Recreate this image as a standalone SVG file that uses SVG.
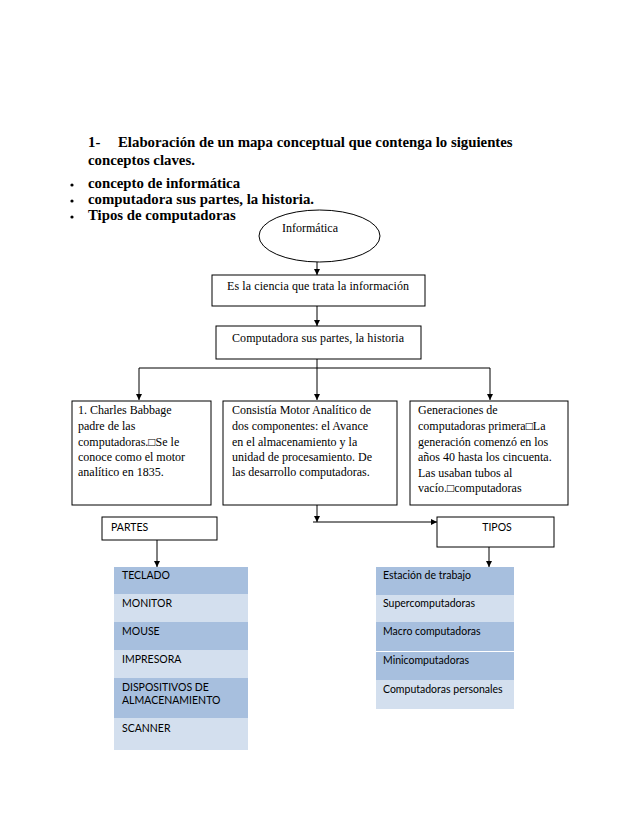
<svg xmlns="http://www.w3.org/2000/svg" width="638" height="826" viewBox="0 0 638 826">
<defs>
<marker id="ah" viewBox="0 0 6 6" refX="6" refY="3" markerWidth="6" markerHeight="6" markerUnits="userSpaceOnUse" orient="auto">
<path d="M0,0 L6,3 L0,6 z" fill="#000"/>
</marker>
<style>
.t{font-family:"Liberation Serif","Times New Roman",serif;font-size:12px;fill:#000}
.h{font-family:"Liberation Serif","Times New Roman",serif;font-size:14.8px;font-weight:bold;fill:#000}
.s{font-family:Lato,"Liberation Sans",sans-serif;font-size:10.5px;fill:#000}
.box{fill:#fff;stroke:#000;stroke-width:1}
.ln{fill:none;stroke:#000;stroke-width:1}
.dk{fill:#a7bfde}
.lt{fill:#d3dfee}
</style>
</defs>
<rect width="638" height="826" fill="#fff"/>
<g id="heading">
<text class="h" x="88" y="147">1-</text>
<text class="h" x="118" y="147">Elaboración de  un mapa conceptual que contenga lo siguientes</text>
<text class="h" x="88" y="165">conceptos claves.</text>
<circle cx="72" cy="185" r="1.6" fill="#000"/>
<circle cx="72" cy="201" r="1.6" fill="#000"/>
<circle cx="72" cy="217" r="1.6" fill="#000"/>
<text class="h" x="88" y="188">concepto de  informática</text>
<text class="h" x="88" y="204">computadora sus partes, la historia.</text>
<text class="h" x="88" y="220">Tipos de computadoras</text>
</g>
<g id="connectors">
<line class="ln" x1="317" y1="262" x2="317" y2="275" marker-end="url(#ah)"/>
<line class="ln" x1="317" y1="306" x2="317" y2="326" marker-end="url(#ah)"/>
<line class="ln" x1="317" y1="359" x2="317" y2="368"/>
<line class="ln" x1="139" y1="368" x2="490" y2="368"/>
<line class="ln" x1="139" y1="368" x2="139" y2="400" marker-end="url(#ah)"/>
<line class="ln" x1="317" y1="368" x2="317" y2="400" marker-end="url(#ah)"/>
<line class="ln" x1="490" y1="368" x2="490" y2="400" marker-end="url(#ah)"/>
<line class="ln" x1="317" y1="505" x2="317" y2="522" marker-end="url(#ah)"/>
<line class="ln" x1="313" y1="522" x2="437" y2="522" marker-end="url(#ah)"/>
<line class="ln" x1="157" y1="540" x2="157" y2="567" marker-end="url(#ah)"/>
<line class="ln" x1="489" y1="547" x2="489" y2="567" marker-end="url(#ah)"/>
</g>
<g id="informatica">
<ellipse class="box" cx="319.5" cy="236" rx="60.5" ry="26"/>
<text class="t" x="310" y="232" text-anchor="middle">Informática</text>
</g>
<g id="ciencia">
<rect class="box" x="212" y="275" width="213" height="31"/>
<text class="t" x="227" y="290" textLength="182" lengthAdjust="spacing">Es la ciencia  que trata la información</text>
</g>
<g id="computadora">
<rect class="box" x="216" y="326" width="205" height="33"/>
<text class="t" x="232" y="342" textLength="172" lengthAdjust="spacing">Computadora  sus  partes,  la historia</text>
</g>
<g id="babbage">
<rect class="box" x="72" y="401" width="139" height="104"/>
<text class="t" x="78" y="414">1. Charles  Babbage</text>
<text class="t" x="78" y="430">padre de las</text>
<text class="t" x="78" y="446">computadoras.□Se  le</text>
<text class="t" x="78" y="461">conoce como el  motor</text>
<text class="t" x="78" y="476">analítico  en 1835.</text>
</g>
<g id="motor">
<rect class="box" x="223" y="401" width="174" height="104"/>
<text class="t" x="232" y="414">Consistía Motor Analítico  de</text>
<text class="t" x="232" y="430">dos componentes:  el Avance</text>
<text class="t" x="232" y="446">en el almacenamiento  y la</text>
<text class="t" x="232" y="461">unidad  de procesamiento.  De</text>
<text class="t" x="232" y="476">las desarrollo  computadoras.</text>
</g>
<g id="generaciones">
<rect class="box" x="410" y="401" width="158" height="104"/>
<text class="t" x="418" y="414">Generaciones   de</text>
<text class="t" x="418" y="430">computadoras   primera□La</text>
<text class="t" x="418" y="446">generación  comenzó  en los</text>
<text class="t" x="418" y="461">años 40 hasta los cincuenta.</text>
<text class="t" x="418" y="477">Las  usaban tubos al</text>
<text class="t" x="418" y="492">vacío.□computadoras</text>
</g>
<g id="partes">
<rect class="box" x="102" y="517" width="115" height="23"/>
<text class="s" x="111" y="531">PARTES</text>
</g>
<g id="tipos">
<rect class="box" x="437" y="517" width="117" height="30"/>
<text class="s" x="497" y="531" text-anchor="middle">TIPOS</text>
</g>
<g id="partes-list">
<rect class="dk" x="114" y="567" width="134" height="27"/>
<rect class="lt" x="114" y="594" width="134" height="28"/>
<rect class="dk" x="114" y="622" width="134" height="28"/>
<rect class="lt" x="114" y="650" width="134" height="28"/>
<rect class="dk" x="114" y="678" width="134" height="40"/>
<rect class="lt" x="114" y="718" width="134" height="32"/>
<text class="s" x="122" y="579">TECLADO</text>
<text class="s" x="122" y="607">MONITOR</text>
<text class="s" x="122" y="635">MOUSE</text>
<text class="s" x="122" y="663">IMPRESORA</text>
<text class="s" x="122" y="691">DISPOSITIVOS DE</text>
<text class="s" x="122" y="704">ALMACENAMIENTO</text>
<text class="s" x="122" y="732">SCANNER</text>
</g>
<g id="tipos-list">
<rect class="dk" x="376" y="567" width="138" height="28"/>
<rect class="lt" x="376" y="595" width="138" height="27"/>
<rect class="dk" x="376" y="622" width="138" height="29"/>
<rect class="dk" x="376" y="652" width="138" height="28"/>
<rect class="lt" x="376" y="680" width="138" height="29"/>
<text class="s" x="383" y="579">Estación de trabajo</text>
<text class="s" x="383" y="607">Supercomputadoras</text>
<text class="s" x="383" y="635">Macro computadoras</text>
<text class="s" x="383" y="664">Minicomputadoras</text>
<text class="s" x="383" y="693">Computadoras personales</text>
</g>
</svg>
